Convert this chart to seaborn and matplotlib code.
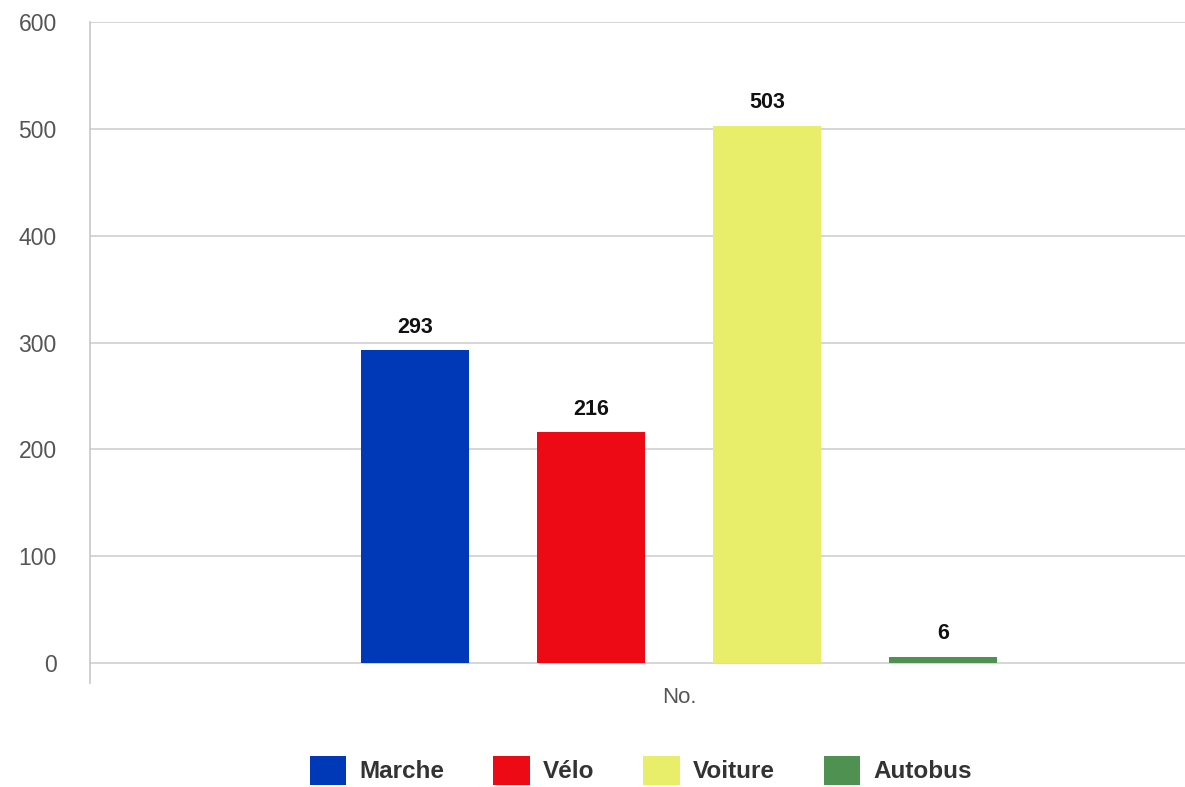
import pandas as pd
import matplotlib.pyplot as plt
import seaborn as sns

# Données
modes = ["Marche", "Vélo", "Voiture", "Autobus"]
valeurs = [293, 216, 503, 6]
couleurs = ["#0039b8", "#ee0a14", "#e8ee6a", "#4e9150"]
categorie = "No."

df = pd.DataFrame({"groupe": [categorie] * len(modes), "mode": modes, "valeur": valeurs})

sns.set_style("white")
plt.rcParams["font.family"] = ["Liberation Sans", "DejaVu Sans"]

fig = plt.figure(figsize=(11.85, 7.87), dpi=100)
ax = fig.add_axes([0.076, 0.132, 0.924, 0.840])

sns.barplot(data=df, x="groupe", y="valeur", hue="mode", hue_order=modes,
            palette=couleurs, width=0.8, gap=0.39, saturation=1, ax=ax,
            legend=True, zorder=3, edgecolor="none", linewidth=0)

# Étiquettes de valeur
for cont in ax.containers:
    ax.bar_label(cont, fmt="%d", padding=9, fontsize=15.5, fontweight="bold", color="#111111")

ax.set_ylim(-18.7, 600)
ax.set_xlim(-0.669, 0.575)
ax.set_yticks(range(0, 601, 100))
ax.set_yticklabels([str(v) for v in range(0, 601, 100)])
for y in range(0, 601, 100):
    ax.axhline(y, color="#d0d0d0", lw=1.2, zorder=1)

ax.set_xlabel("")
ax.set_ylabel("")
ax.tick_params(axis="y", length=0, labelsize=16.5, labelcolor="#555555", pad=24)
ax.tick_params(axis="x", length=0, labelsize=16, labelcolor="#555555", pad=3)
for s in ["top", "right", "bottom"]:
    ax.spines[s].set_visible(False)
ax.spines["left"].set_color("#c8c8c8")
ax.spines["left"].set_linewidth(1.2)

# Légende en bas
handles, labels = ax.get_legend_handles_labels()
ax.legend_.remove()
fig.legend(handles, labels, loc="center", bbox_to_anchor=(0.541, 0.021), ncol=4,
           frameon=False, handlelength=1.5, handleheight=1.5, handletextpad=0.55,
           columnspacing=2.0, prop={"size": 17.5, "weight": "bold"}, labelcolor="#333333")

fig.savefig("out.png", dpi=100)
